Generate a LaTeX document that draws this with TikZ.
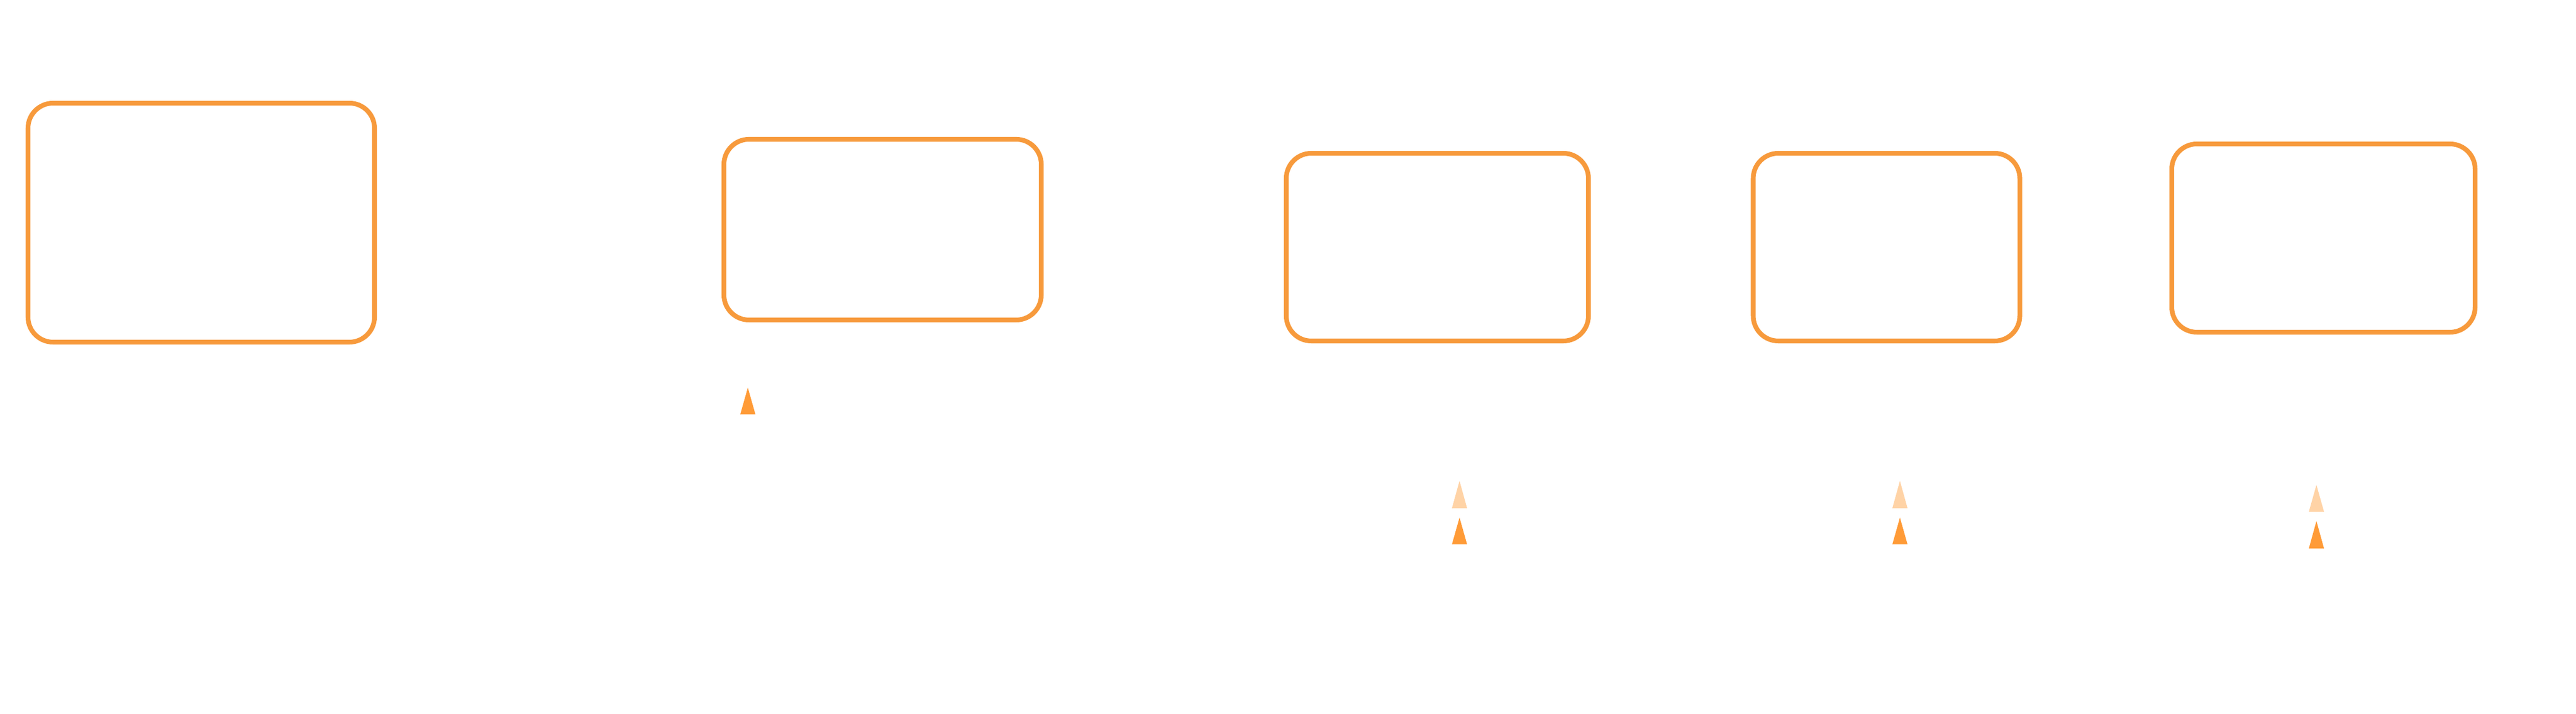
\documentclass[tikz,border=0pt]{standalone}
\usepackage{tikz}
\usepackage{xcolor}
\definecolor{stageorange}{RGB}{247,154,60}
\definecolor{tiporange}{RGB}{255,155,55}
\definecolor{paleorange}{RGB}{255,211,166}
\tikzset{%
    stage/.style={%
        draw=stageorange, line width=2.3pt, rounded corners=0.43cm,
        inner sep=0pt, fill=white
    }
}

\begin{document}
\begin{tikzpicture}
    \useasboundingbox[fill=white] (0,0) rectangle (44.16,12.25);
    \node[stage, minimum width=5.94cm, minimum height=4.10cm] (source) at (3.45,8.43) {};
    \node[stage, minimum width=5.44cm, minimum height=3.10cm] (first) at (15.13,8.31) {};
    \node[stage, minimum width=5.18cm, minimum height=3.22cm] (second) at (24.64,8.01) {};
    \node[stage, minimum width=4.57cm, minimum height=3.22cm] (third) at (32.34,8.01) {};
    \node[stage, minimum width=5.20cm, minimum height=3.23cm] (fourth) at (39.83,8.165) {};
    \fill[tiporange] (12.69,5.14) -- (12.82,5.60) -- (12.95,5.14) -- cycle;
    \foreach \x in {25.02,32.57}
    {
    \fill[paleorange] (\x-0.13,3.53) -- (\x,4.00) -- (\x+0.13,3.53) -- cycle;
    \fill[tiporange] (\x-0.13,2.91) -- (\x,3.37) -- (\x+0.13,2.91) -- cycle;
    }
    \fill[paleorange] (39.58,3.47) -- (39.71,3.93) -- (39.84,3.47) -- cycle;
    \fill[tiporange] (39.58,2.84) -- (39.71,3.31) -- (39.84,2.84) -- cycle;
\end{tikzpicture}
\end{document}
